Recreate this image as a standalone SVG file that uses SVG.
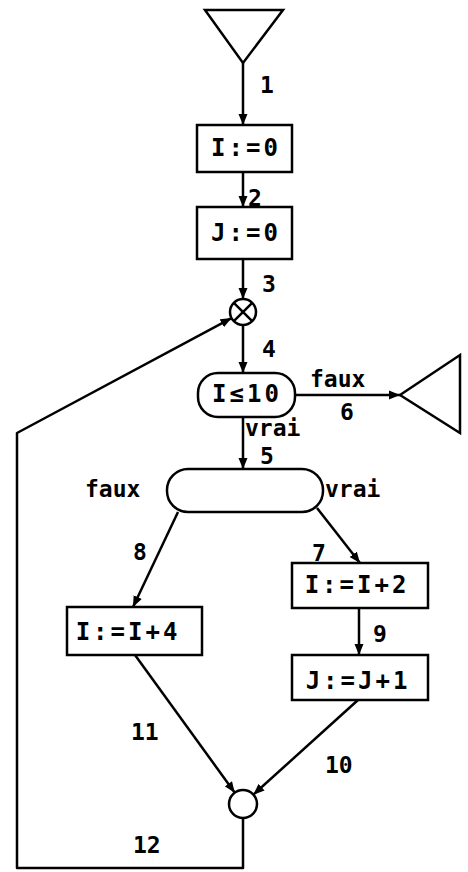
<svg xmlns="http://www.w3.org/2000/svg" width="468" height="872" viewBox="0 0 468 872">
<style>
.s{fill:none;stroke:#000;stroke-width:2.5;stroke-linejoin:round}
.n{fill:#fff;stroke:#000;stroke-width:2.5}
.c{fill:none;stroke:#000;stroke-width:2.5}
text{font-family:"DejaVu Sans Mono","Liberation Mono",monospace;font-size:23px;fill:#000;font-weight:bold}
.b{font-size:24px;text-anchor:middle;dominant-baseline:central;letter-spacing:3px}
</style>
<defs>
<marker id="ah" markerUnits="userSpaceOnUse" markerWidth="12" markerHeight="10" refX="11" refY="5" orient="auto">
<path d="M0,0.5 L11,5 L0,9.5 z" fill="#000"/>
</marker>
</defs>
<rect width="468" height="872" fill="#fff"/>
<g id="connectors">
<line class="c" x1="243" y1="63" x2="243" y2="125" marker-end="url(#ah)"/>
<line class="c" x1="243" y1="172" x2="243" y2="207" marker-end="url(#ah)"/>
<line class="c" x1="243" y1="259" x2="243" y2="299" marker-end="url(#ah)"/>
<line class="c" x1="243" y1="325" x2="243" y2="373" marker-end="url(#ah)"/>
<line class="c" x1="295" y1="395" x2="400" y2="395" marker-end="url(#ah)"/>
<line class="c" x1="243" y1="417" x2="243" y2="469" marker-end="url(#ah)"/>
<line class="c" x1="317" y1="508" x2="360" y2="563" marker-end="url(#ah)"/>
<line class="c" x1="178" y1="512" x2="133" y2="607" marker-end="url(#ah)"/>
<line class="c" x1="359" y1="608" x2="359" y2="655" marker-end="url(#ah)"/>
<line class="c" x1="135" y1="655" x2="234.8" y2="792.7" marker-end="url(#ah)"/>
<line class="c" x1="358" y1="700" x2="253.4" y2="794.6" marker-end="url(#ah)"/>
<polyline class="s" points="243,818 243,868 17,868 17,433 231.5,318.1" marker-end="url(#ah)"/>
<text x="260" y="93">1</text>
<text x="248" y="206">2</text>
<text x="262" y="292">3</text>
<text x="262" y="357">4</text>
<text x="310" y="387">faux</text>
<text x="340" y="420">6</text>
<text x="245" y="436">vrai</text>
<text x="260" y="464">5</text>
<text x="85" y="497">faux</text>
<text x="325" y="497">vrai</text>
<text x="133" y="560">8</text>
<text x="312" y="561">7</text>
<text x="373" y="642">9</text>
<text x="131" y="740">11</text>
<text x="325" y="773">10</text>
<text x="133" y="853">12</text>
</g>
<g id="start">
<polygon class="n" points="205,10 283,10 243,63"/>
</g>
<g id="i0">
<rect class="n" x="197" y="125" width="95" height="47"/>
<text class="b" x="246" y="148">I:=0</text>
</g>
<g id="j0">
<rect class="n" x="197" y="207" width="95" height="52"/>
<text class="b" x="246" y="233">J:=0</text>
</g>
<g id="merge1">
<circle class="n" cx="243" cy="312" r="13"/>
<path class="c" d="M233.8,302.8 L252.2,321.2 M252.2,302.8 L233.8,321.2"/>
</g>
<g id="test">
<rect class="n" x="198" y="373" width="97" height="44" rx="20" ry="20"/>
<text class="b" x="247" y="394">I≤10</text>
</g>
<g id="end">
<polygon class="n" points="400,395 460,355 460,433"/>
</g>
<g id="choice">
<rect class="n" x="167" y="469" width="156" height="43" rx="21" ry="21"/>
</g>
<g id="ip2">
<rect class="n" x="292" y="563" width="136" height="45"/>
<text class="b" x="357" y="585">I:=I+2</text>
</g>
<g id="jp1">
<rect class="n" x="292" y="655" width="136" height="45"/>
<text class="b" x="358" y="681">J:=J+1</text>
</g>
<g id="ip4">
<rect class="n" x="67" y="607" width="135" height="48"/>
<text class="b" x="128" y="632">I:=I+4</text>
</g>
<g id="merge2">
<circle class="n" cx="243" cy="804" r="14"/>
</g>
</svg>
